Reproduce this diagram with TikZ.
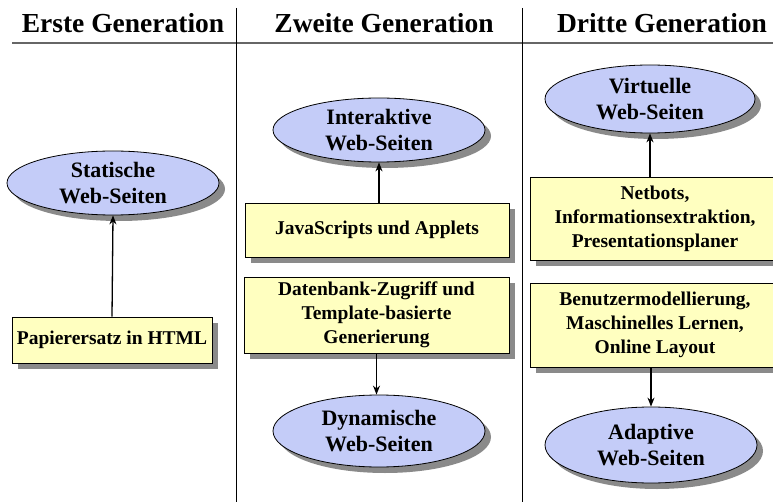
\documentclass[tikz,border=0pt]{standalone}
\usepackage{fontspec}
\setmainfont{Liberation Serif}
\usetikzlibrary{arrows.meta,shapes.geometric,shadows}
\definecolor{boxfill}{HTML}{FFFFC0}
\definecolor{ellfill}{HTML}{C4CCF8}
\definecolor{shadowc}{HTML}{8A8A8A}
\tikzset{
  shad/.style={drop shadow={shadow xshift=6pt,shadow yshift=-6pt,fill=shadowc,opacity=1}},
  ell/.style={ellipse,draw=black,line width=0.8pt,fill=ellfill,shad,inner sep=0pt,align=center,
     font=\fontsize{22}{26}\selectfont\bfseries},
  box/.style={rectangle,draw=black,line width=0.8pt,fill=boxfill,shad,inner sep=0pt,align=center,
     font=\fontsize{19.5}{24}\selectfont\bfseries},
  head/.style={font=\fontsize{27.5}{30}\selectfont\bfseries,inner sep=0pt},
  arr/.style={line width=1.3pt,-{Stealth[length=9pt,width=7pt]}}
}
\begin{document}
\begin{tikzpicture}[x=1pt,y=-1pt]
\useasboundingbox (0,0) rectangle (773,502);
\clip (0,0) rectangle (773,502);
\fill[white] (0,0) rectangle (773,502);
% headers
\node[head] (h1) at (123,23) {Erste Generation};
\node[head] (h2) at (384,23) {Zweite Generation};
\node[head] (h3) at (662,23) {Dritte Generation};
\draw[line width=1.6pt,black!60] (12,43) -- (773,43);
\draw[line width=0.8pt] (236,8) -- (236,502);
\draw[line width=0.8pt] (522,8) -- (522,502);
% column 1
\node[ell,minimum width=212pt,minimum height=64pt] (stat) at (113,183) {Statische\\Web-Seiten};
\node[box,minimum width=200pt,minimum height=46pt] (pap) at (112,340) {Papierersatz in HTML};
\draw[arr] (pap.north) -- (stat.south);
% column 2
\node[ell,minimum width=212pt,minimum height=64pt] (inter) at (379,130) {Interaktive\\Web-Seiten};
\node[box,minimum width=264pt,minimum height=54pt] (java) at (377,230) {JavaScripts und Applets};
\draw[arr] (java.north -| inter.south) -- (inter.south);
\node[box,minimum width=265pt,minimum height=76pt] (db) at (376.5,315) {Datenbank-Zugriff und\\Template-basierte\\Generierung};
\node[ell,minimum width=212pt,minimum height=72pt] (dyn) at (379,431) {Dynamische\\Web-Seiten};
\draw[arr] (db.south) -- (dyn.north -| db.south);
% column 3
\node[ell,minimum width=210pt,minimum height=68pt] (virt) at (650,99) {Virtuelle\\Web-Seiten};
\node[box,minimum width=250pt,minimum height=83pt] (net) at (655,218.5) {Netbots,\\Informationsextraktion,\\Presentationsplaner};
\draw[arr] (net.north -| virt.south) -- (virt.south);
\node[box,minimum width=250pt,minimum height=84pt] (ben) at (655,325) {Benutzermodellierung,\\Maschinelles Lernen,\\Online Layout};
\node[ell,minimum width=212pt,minimum height=76pt] (adap) at (651,445) {Adaptive\\Web-Seiten};
\draw[arr] (ben.south -| adap.north) -- (adap.north);
\end{tikzpicture}
\end{document}
